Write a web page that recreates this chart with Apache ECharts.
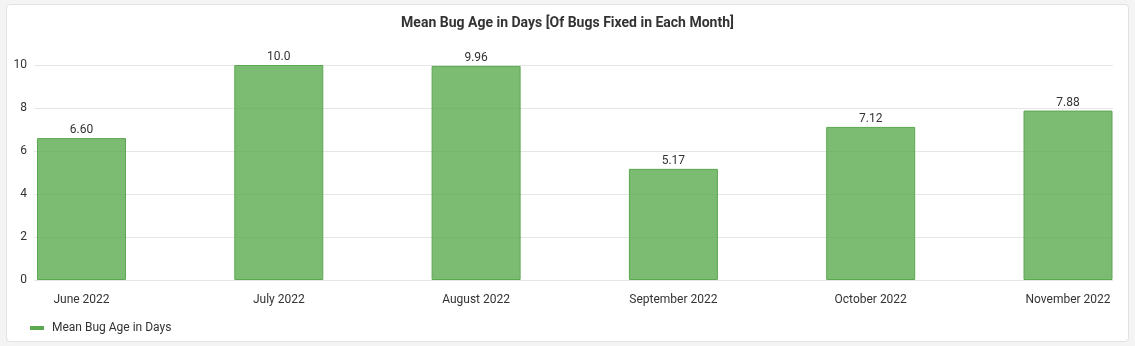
<!DOCTYPE html>
<html>
<head>
<meta charset="utf-8">
<script src="https://cdn.jsdelivr.net/npm/echarts@6/dist/echarts.min.js"></script>
<style>
  html, body { margin: 0; padding: 0; background: #f4f4f4; }
  .panel {
    position: absolute; left: 6px; top: 4px; width: 1121px; height: 336px;
    background: #fff; border: 1px solid #e2e2e2; border-radius: 4px;
  }
  #chart { position: absolute; left: 0; top: 0; width: 1135px; height: 346px; }
</style>
</head>
<body>
<div class="panel"></div>
<div id="chart"></div>
<script>
const months = ['June 2022', 'July 2022', 'August 2022', 'September 2022', 'October 2022', 'November 2022'];
const meanAge = [6.60, 10.0, 9.96, 5.17, 7.12, 7.88];
const yTicks = { min: 0, max: 10, interval: 2 };

const chart = echarts.init(document.getElementById('chart'), null, { renderer: 'canvas' });
const font = 'Roboto, "Helvetica Neue", Arial, sans-serif';

const options = {
  backgroundColor: 'transparent',
  textStyle: { fontFamily: font },
  title: {
    left: 'center',
    top: 11,
    text: 'Mean Bug Age in Days [Of Bugs Fixed in Each Month]',
    textStyle: { fontFamily: font, fontSize: 14, fontWeight: 'bold', color: '#333' }
  },
  legend: {
    left: 25,
    top: 317,
    icon: 'rect',
    itemWidth: 14,
    itemHeight: 4,
    itemGap: 8,
    itemStyle: { color: '#5aa84f', borderWidth: 0 },
    textStyle: { fontFamily: font, fontSize: 12, color: '#333', padding: [0, 0, 0, 3] },
    data: ['Mean Bug Age in Days']
  },
  grid: [
    { left: 34, right: 22, top: 65, bottom: 66 },
    { left: 81.5, right: 67, top: 65, bottom: 66 }
  ],
  xAxis: [
    { gridIndex: 0, type: 'category', data: months, show: false },
    {
      gridIndex: 1,
      type: 'category',
      boundaryGap: false,
      data: months,
      axisLine: { show: false },
      axisTick: { show: false },
      axisLabel: { color: '#333', fontSize: 12, margin: 14, interval: 0 }
    }
  ],
  yAxis: [
    {
      gridIndex: 0,
      type: 'value',
      min: yTicks.min,
      max: yTicks.max,
      interval: yTicks.interval,
      axisLine: { show: false },
      axisTick: { show: false },
      axisLabel: { color: '#333', fontSize: 12, margin: 7 },
      splitLine: { lineStyle: { color: '#e6e6e6', width: 1 } }
    },
    {
      gridIndex: 1,
      type: 'value',
      min: yTicks.min,
      max: yTicks.max,
      show: false,
      splitLine: { show: false }
    }
  ],
  series: [
    {
      name: 'Mean Bug Age in Days',
      type: 'bar',
      xAxisIndex: 1,
      yAxisIndex: 1,
      barWidth: 89,
      data: meanAge,
      itemStyle: {
        color: 'rgba(86, 168, 74, 0.78)',
        borderColor: '#5aa84f',
        borderWidth: 1
      },
      label: {
        show: true,
        position: 'top',
        distance: 2,
        color: '#333',
        fontSize: 12,
        formatter: p => p.value.toPrecision(3)
      }
    }
  ]
};

chart.setOption(options);
</script>
</body>
</html>
